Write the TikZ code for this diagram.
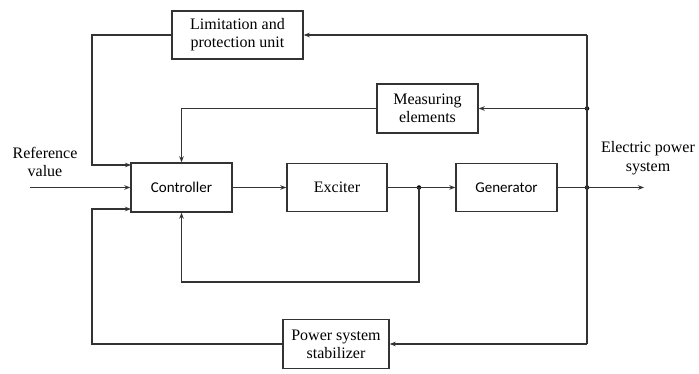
\documentclass[tikz,border=0pt]{standalone}
\usepackage{fontspec}
\setmainfont{Liberation Serif}
\newfontfamily\boxsans{Carlito}
\usetikzlibrary{arrows.meta,calc}
\definecolor{ink}{HTML}{333333}
\begin{document}
\begin{tikzpicture}[x=1pt,y=-1pt,
  conn/.style={draw=ink,line width=1.4pt},
  blk/.style={draw=ink,line width=1.4pt,fill=white,inner sep=0pt,align=center,
    font=\fontsize{16}{18}\selectfont},
  sansblk/.style={blk,font=\boxsans\fontsize{15}{18}\selectfont},
  lbl/.style={align=center,font=\fontsize{16}{18.5}\selectfont,inner sep=0pt},
  arr/.style={conn,-{Stealth[length=6pt,width=4.5pt]}},
  jdot/.style={circle,fill=black,inner sep=0pt,minimum size=4.5pt}]
\fill[white] (0,0) rectangle (699,374);
\useasboundingbox (0,0) rectangle (699,374);

% blocks
\node[blk,minimum width=131pt,minimum height=48pt] (lim) at (237.5,35) {Limitation and\\protection unit};
\node[blk,minimum width=101pt,minimum height=49pt] (meas) at (427.5,108.5) {Measuring\\elements};
\node[sansblk,minimum width=101pt,minimum height=49pt] (ctrl) at (181.5,187.5) {Controller};
\node[blk,minimum width=100pt,minimum height=48pt] (exc) at (337,187.5) {Exciter};
\node[sansblk,minimum width=101pt,minimum height=48pt] (gen) at (506.5,187.5) {Generator};
\node[blk,minimum width=106pt,minimum height=49pt] (pss) at (336,344) {Power system\\stabilizer};

% labels
\node[lbl] (ref) at (45,162) {Reference\\value};
\node[lbl] (eps) at (648,158) {Electric power\\system};

% junctions and free ends
\node[jdot] (j1) at (419,187.5) {};
\node[jdot] (j2) at (587,187.5) {};
\node[jdot] (j3) at (587,108.5) {};
\coordinate (refin) at (30,187.5);
\coordinate (out) at (644,187.5);
\coordinate (cin1) at (131,165);
\coordinate (cin3) at (131,209);
\coordinate (topr) at (587,35);
\coordinate (botr) at (587,344);
\coordinate (lx) at (92,0);
\coordinate (fb) at (0,282);

% forward path
\draw[arr] (refin) -- (ctrl.west);
\draw[arr] (ctrl.east) -- (exc.west);
\draw[conn] (exc.east) -- (j1.center);
\draw[arr] (j1.center) -- (gen.west);
\draw[conn] (gen.east) -- (j2.center);
\draw[arr] (j2.center) -- (out);

% feedback branches from the output
\draw[conn] (j2.center) -- (topr);
\draw[arr] (topr) -- (lim.east);
\draw[arr] (j3.center) -- (meas.east);
\draw[conn] (j2.center) -- (botr);
\draw[arr] (botr) -- (pss.east);

% returns to the controller
\draw[arr] (lim.west) -- (lim.west -| lx) -- (cin1 -| lx) -- (cin1);
\draw[arr] (pss.west) -- (pss.west -| lx) -- (cin3 -| lx) -- (cin3);
\draw[arr] (meas.west) -- (meas.west -| ctrl.north) -- (ctrl.north);
\draw[arr] (j1.center) -- (j1 |- fb) -- (ctrl.south |- fb) -- (ctrl.south);
\end{tikzpicture}
\end{document}
